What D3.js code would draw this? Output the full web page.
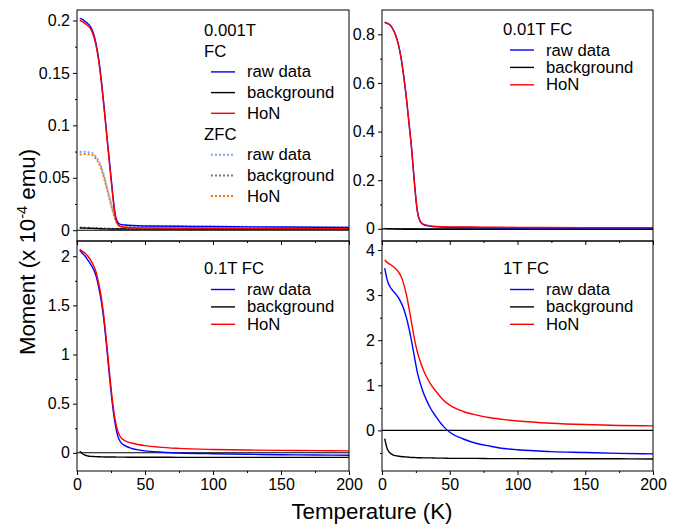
<!DOCTYPE html>
<html><head><meta charset="utf-8">
<script src="https://cdn.jsdelivr.net/npm/d3@7"></script>
<style>body{margin:0;background:#fff} svg{display:block} text{font-family:"Liberation Sans",Arial,sans-serif;fill:#000}</style>
</head><body><svg id="c" width="681" height="524"></svg>
<script>
// ---------- data ----------
const xTicks = [0, 50, 100, 150, 200];
const xMinor = [25, 75, 125, 175];

// Panel A : 0.001T (FC + ZFC)
const tA = [2,4,6,8,10,12,14,16,18,20,22,24,26,28,30,32,35,40,50,75,100,150,200];
const fcRawA  = [0.202,0.201,0.199,0.197,0.194,0.188,0.178,0.163,0.142,0.117,0.090,0.064,0.038,0.016,0.0075,0.0055,0.005,0.0045,0.004,0.0037,0.0035,0.003,0.0027];
const fcBgA   = [0.0022,0.0021,0.002,0.0019,0.0018,0.0017,0.0016,0.0015,0.0014,0.0013,0.0013,0.0012,0.0012,0.0012,0.0011,0.0011,0.0011,0.001,0.001,0.001,0.0009,0.0009,0.0009];
const fcHoNA  = [0.200,0.199,0.197,0.195,0.192,0.186,0.176,0.161,0.140,0.115,0.088,0.062,0.036,0.0145,0.0055,0.0035,0.0028,0.0025,0.0022,0.002,0.0019,0.0016,0.0014];
const zfcRawA = [0.0745,0.0748,0.0748,0.0745,0.074,0.0728,0.070,0.066,0.0595,0.051,0.041,0.031,0.021,0.012,0.0068,0.0052,0.0048,0.0044,0.004,0.0037,0.0034,0.003,0.0027];
const zfcBgA  = [0.0026,0.0025,0.0024,0.0023,0.0022,0.0021,0.002,0.0019,0.0018,0.0017,0.0016,0.0015,0.0014,0.0013,0.0012,0.0012,0.0011,0.0011,0.001,0.001,0.001,0.0009,0.0009];
const zfcHoNA = [0.0722,0.0726,0.0727,0.0725,0.0721,0.071,0.068,0.0641,0.0577,0.0493,0.0394,0.0295,0.0196,0.0107,0.0053,0.0035,0.0029,0.0026,0.0023,0.0021,0.0019,0.0016,0.0014];
const yTicksA = [0, 0.05, 0.1, 0.15, 0.2];
const yMinorA = [0.025, 0.075, 0.125, 0.175];

// Panel B : 0.01T FC
const tB = [2,4,6,8,10,12,14,16,18,20,22,24,26,28,30,33,36,40,50,75,100,150,200];
const rawB = [0.850,0.845,0.838,0.822,0.797,0.760,0.705,0.628,0.537,0.430,0.320,0.185,0.075,0.032,0.019,0.013,0.010,0.008,0.006,0.005,0.004,0.003,0.003];
const bgB  = [0.002,0.001,0.0005,0,-0.0005,-0.001,-0.001,-0.0015,-0.0015,-0.0015,-0.0015,-0.0015,-0.0015,-0.002,-0.002,-0.002,-0.002,-0.002,-0.002,-0.002,-0.002,-0.002,-0.002];
const hoNB = [0.848,0.844,0.8375,0.822,0.7975,0.761,0.706,0.6295,0.5385,0.4315,0.3215,0.1865,0.0765,0.034,0.021,0.015,0.012,0.010,0.008,0.007,0.006,0.005,0.005];
const yTicksB = [0, 0.2, 0.4, 0.6, 0.8];
const yMinorB = [0.1, 0.3, 0.5, 0.7];

// Panel C : 0.1T FC
const tC = [2,4,6,8,10,12,14,16,18,20,22,24,26,28,30,32,35,40,45,50,60,75,100,125,150,175,200];
const rawC = [2.06,2.03,2.00,1.96,1.92,1.87,1.80,1.68,1.53,1.32,1.05,0.76,0.50,0.30,0.17,0.11,0.075,0.045,0.03,0.02,0.008,-0.002,-0.01,-0.015,-0.019,-0.022,-0.025];
const bgC  = [0.015,-0.01,-0.025,-0.032,-0.036,-0.038,-0.039,-0.040,-0.041,-0.042,-0.042,-0.043,-0.043,-0.043,-0.044,-0.044,-0.044,-0.045,-0.045,-0.045,-0.045,-0.046,-0.046,-0.046,-0.046,-0.046,-0.046];
const hoNC = [2.07,2.05,2.03,2.00,1.96,1.91,1.84,1.72,1.57,1.36,1.09,0.80,0.54,0.34,0.22,0.16,0.125,0.10,0.085,0.073,0.058,0.045,0.034,0.028,0.025,0.022,0.020];
const yTicksC = [0, 0.5, 1, 1.5, 2];
const yMinorC = [0.25, 0.75, 1.25, 1.75];

// Panel D : 1T FC
const tD = [2,4,6,8,10,12,14,16,18,20,22,24,26,28,30,33,36,40,45,50,60,70,80,90,100,125,150,175,200];
const rawD = [3.60,3.32,3.18,3.10,3.03,2.95,2.84,2.70,2.50,2.25,1.95,1.62,1.30,1.07,0.88,0.66,0.48,0.30,0.10,-0.04,-0.19,-0.29,-0.35,-0.40,-0.43,-0.47,-0.49,-0.51,-0.52];
const bgD  = [-0.18,-0.42,-0.50,-0.54,-0.56,-0.57,-0.58,-0.585,-0.59,-0.595,-0.60,-0.60,-0.605,-0.605,-0.61,-0.61,-0.61,-0.615,-0.615,-0.62,-0.62,-0.62,-0.625,-0.625,-0.625,-0.63,-0.63,-0.63,-0.635];
const hoND = [3.78,3.72,3.68,3.64,3.59,3.52,3.42,3.25,3.01,2.70,2.35,2.02,1.75,1.55,1.38,1.18,1.02,0.86,0.68,0.56,0.42,0.34,0.28,0.24,0.21,0.16,0.13,0.11,0.10];
const yTicksD = [0, 1, 2, 3, 4];
const yMinorD = [-0.5, 0.5, 1.5, 2.5, 3.5];

const legendLabels = ["raw data", "background", "HoN"];

// ---------- drawing ----------
const svg = d3.select("#c");
const FONT_TICK = 16, FONT_LEG = 16.7, FONT_TITLE = 22.3;
const C_BLUE = "#0000ff", C_RED = "#ff0000", C_BLK = "#000000";
const C_LBLUE = "#7aaaf5", C_GRAY = "#7a7a7a", C_ORANGE = "#f47a10";

const panels = [
  {id:"A", x0:77,  x1:349, y0:10,  y1:241, yDom:[-0.0103,0.21], yT:yTicksA, yM:yMinorA, xLab:false,
   series:[
     {t:tA, v:zfcRawA, c:C_LBLUE, dash:"2,2", w:2},
     {t:tA, v:zfcBgA,  c:C_GRAY,  dash:"2,2", w:2},
     {t:tA, v:zfcHoNA, c:C_ORANGE,dash:"2,2", w:2},
     {t:tA, v:fcBgA,  c:C_BLK},
     {t:tA, v:fcRawA, c:C_BLUE},
     {t:tA, v:fcHoNA, c:C_RED}]},
  {id:"B", x0:382, x1:653, y0:10,  y1:241, yDom:[-0.05,0.9], yT:yTicksB, yM:yMinorB, xLab:false,
   series:[{t:tB, v:bgB, c:C_BLK},{t:tB, v:rawB, c:C_BLUE},{t:tB, v:hoNB, c:C_RED}]},
  {id:"C", x0:77,  x1:349, y0:241, y1:471, yDom:[-0.185,2.155], yT:yTicksC, yM:yMinorC, xLab:true,
   series:[{t:tC, v:bgC, c:C_BLK},{t:tC, v:rawC, c:C_BLUE},{t:tC, v:hoNC, c:C_RED}]},
  {id:"D", x0:382, x1:653, y0:241, y1:471, yDom:[-0.9,4.2], yT:yTicksD, yM:yMinorD, xLab:true,
   series:[{t:tD, v:bgD, c:C_BLK},{t:tD, v:rawD, c:C_BLUE},{t:tD, v:hoND, c:C_RED}]}
];

panels.forEach(p => {
  const x = d3.scaleLinear().domain([0,200]).range([p.x0, p.x1]);
  const y = d3.scaleLinear().domain(p.yDom).range([p.y1, p.y0]);
  const clipId = "clip" + p.id;
  svg.append("clipPath").attr("id", clipId).append("rect")
     .attr("x", p.x0).attr("y", p.y0).attr("width", p.x1 - p.x0).attr("height", p.y1 - p.y0);
  const g = svg.append("g").attr("clip-path", `url(#${clipId})`);
  g.append("line").attr("x1", p.x0).attr("x2", p.x1).attr("y1", y(0)).attr("y2", y(0))
   .attr("stroke", "#000").attr("stroke-width", 1.1);
  const line = d3.line().x(d => x(d[0])).y(d => y(d[1])).curve(d3.curveMonotoneX);
  p.series.forEach(s => {
    g.append("path").datum(s.t.map((t,i) => [t, s.v[i]]))
     .attr("d", line).attr("fill", "none").attr("stroke", s.c)
     .attr("stroke-width", s.w || 1.4).attr("stroke-dasharray", s.dash || null);
  });
  svg.append("rect").attr("x", p.x0).attr("y", p.y0).attr("width", p.x1 - p.x0).attr("height", p.y1 - p.y0)
     .attr("fill", "none").attr("stroke", "#000").attr("stroke-width", 1);
  const ya = svg.append("g").attr("transform", `translate(${p.x0},0)`)
     .call(d3.axisLeft(y).tickValues(p.yT).tickSize(4).tickPadding(3).tickFormat(d => String(d)));
  ya.select(".domain").remove();
  ya.selectAll("text").attr("font-size", FONT_TICK).attr("font-family", '"Liberation Sans",Arial,sans-serif');
  const ym = svg.append("g").attr("transform", `translate(${p.x0},0)`)
     .call(d3.axisLeft(y).tickValues(p.yM).tickSize(2).tickFormat(""));
  ym.select(".domain").remove();
  const xa = svg.append("g").attr("transform", `translate(0,${p.y1})`)
     .call(d3.axisBottom(x).tickValues(xTicks).tickSize(4).tickPadding(4).tickFormat(p.xLab ? (d => String(d)) : ""));
  xa.select(".domain").remove();
  xa.selectAll("text").attr("font-size", FONT_TICK).attr("font-family", '"Liberation Sans",Arial,sans-serif');
  const xm = svg.append("g").attr("transform", `translate(0,${p.y1})`)
     .call(d3.axisBottom(x).tickValues(xMinor).tickSize(2).tickFormat(""));
  xm.select(".domain").remove();
});

// ---------- legends ----------
function legText(x, yb, s) {
  svg.append("text").attr("x", x).attr("y", yb).attr("font-size", FONT_LEG).text(s);
}
function legItem(lx, yb, label, color, dash) {
  svg.append("line").attr("x1", lx).attr("x2", lx + 24).attr("y1", yb - 5.5).attr("y2", yb - 5.5)
     .attr("stroke", color).attr("stroke-width", dash ? 2 : 1.4).attr("stroke-dasharray", dash || null);
  legText(lx + 36, yb, label);
}
legText(204, 36, "0.001T");
legText(204, 56.7, "FC");
legItem(211, 77.4, legendLabels[0], C_BLUE);
legItem(211, 98.1, legendLabels[1], C_BLK);
legItem(211, 118.8, legendLabels[2], C_RED);
legText(204, 139.5, "ZFC");
legItem(211, 160.2, legendLabels[0], C_LBLUE, "2,2");
legItem(211, 180.9, legendLabels[1], C_GRAY, "2,2");
legItem(211, 201.6, legendLabels[2], C_ORANGE, "2,2");
legText(503, 35, "0.01T FC");
legItem(510, 55.5, legendLabels[0], C_BLUE);
legItem(510, 72.9, legendLabels[1], C_BLK);
legItem(510, 90.3, legendLabels[2], C_RED);
legText(204, 274.3, "0.1T FC");
legItem(211, 295, legendLabels[0], C_BLUE);
legItem(211, 312.4, legendLabels[1], C_BLK);
legItem(211, 329.8, legendLabels[2], C_RED);
legText(503, 274.3, "1T FC");
legItem(510, 295, legendLabels[0], C_BLUE);
legItem(510, 312.4, legendLabels[1], C_BLK);
legItem(510, 329.8, legendLabels[2], C_RED);

// ---------- axis titles ----------
svg.append("text").attr("x", 372).attr("y", 519).attr("text-anchor", "middle")
   .attr("font-size", FONT_TITLE).text("Temperature (K)");
const yt = svg.append("text").attr("transform", "translate(35,252) rotate(-90)")
   .attr("text-anchor", "middle").attr("font-size", FONT_TITLE);
yt.append("tspan").text("Moment (x 10");
yt.append("tspan").attr("font-size", 14.5).attr("dy", -8).text("-4");
yt.append("tspan").attr("dy", 8).text(" emu)");
</script>
</body></html>
